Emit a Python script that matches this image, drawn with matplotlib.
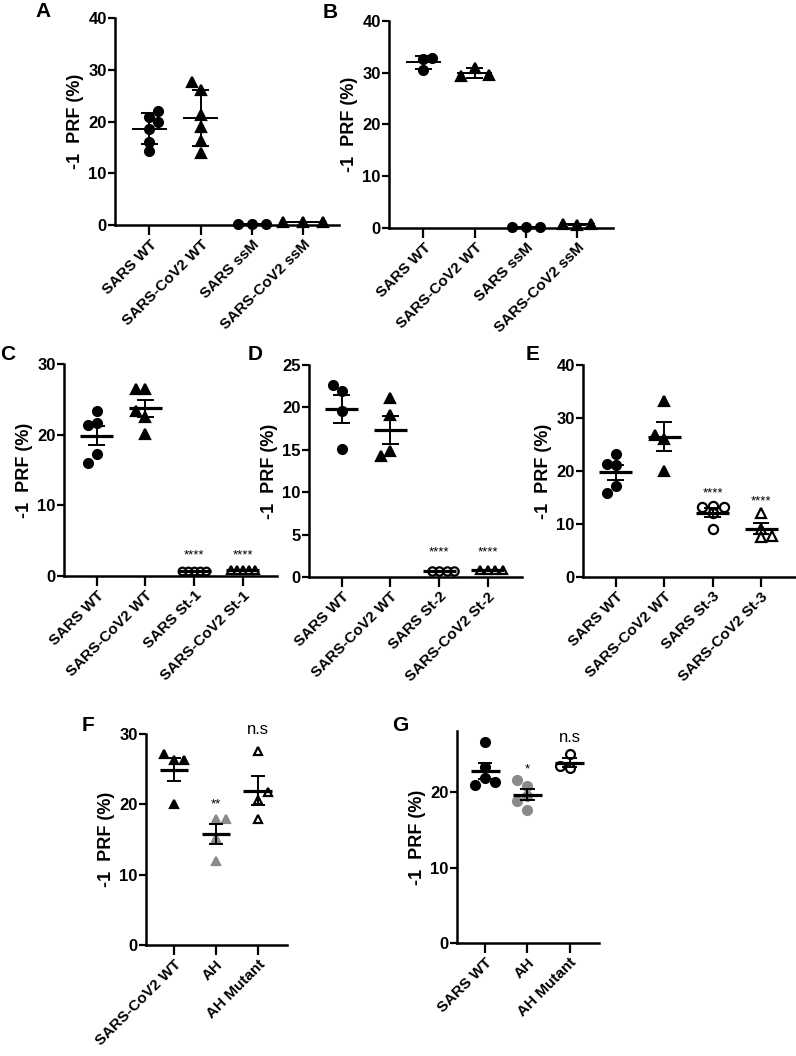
import numpy as np
import matplotlib
matplotlib.use('Agg')
import matplotlib.pyplot as plt

plt.rcParams['font.family'] = ['Liberation Sans', 'DejaVu Sans']

# ---------------- data ----------------
a_groups = ['SARS WT', 'SARS-CoV2 WT', 'SARS ssM', 'SARS-CoV2 ssM']
a_sars_wt = [20.8, 22.1, 19.9, 18.6, 16.1, 14.3]
a_cov2_wt = [26.1, 27.6, 21.2, 19.0, 16.3, 14.0]
a_sars_ssm = [0.25, 0.22, 0.22]
a_cov2_ssm = [0.6, 0.65, 0.6]

b_groups = ['SARS WT', 'SARS-CoV2 WT', 'SARS ssM', 'SARS-CoV2 ssM']
b_sars_wt = [32.6, 32.8, 30.6]
b_cov2_wt = [31.0, 29.4, 29.5]
b_sars_ssm = [0.2, 0.22, 0.2]
b_cov2_ssm = [0.65, 0.7, 0.7]

c_groups = ['SARS WT', 'SARS-CoV2 WT', 'SARS St-1', 'SARS-CoV2 St-1']
c_sars_wt = [21.6, 23.3, 21.3, 17.2, 16.0]
c_cov2_wt = [26.4, 26.4, 22.5, 23.4, 20.1]
c_sars_st1 = [0.7, 0.72, 0.68, 0.7, 0.71]
c_cov2_st1 = [0.8, 0.78, 0.82, 0.8, 0.79]
c_sig = ['', '', '****', '****']

d_groups = ['SARS WT', 'SARS-CoV2 WT', 'SARS St-2', 'SARS-CoV2 St-2']
d_sars_wt = [21.9, 22.6, 19.6, 15.1]
d_cov2_wt = [21.1, 19.1, 14.9, 14.3]
d_sars_st2 = [0.7, 0.7, 0.72, 0.68]
d_cov2_st2 = [0.8, 0.82, 0.78, 0.8]
d_sig = ['', '', '****', '****']

e_groups = ['SARS WT', 'SARS-CoV2 WT', 'SARS St-3', 'SARS-CoV2 St-3']
e_sars_wt = [23.3, 21.2, 21.4, 17.1, 15.9]
e_cov2_wt = [33.2, 26.0, 26.8, 20.0]
e_sars_st3 = [13.4, 13.2, 13.2, 12.0, 9.0]
e_cov2_st3 = [12.1, 9.0, 7.7, 7.6]
e_sig = ['', '', '****', '****']

f_groups = ['SARS-CoV2 WT', 'AH', 'AH Mutant']
f_cov2_wt = [26.3, 27.1, 26.3, 20.1]
f_ah = [17.9, 17.9, 15.2, 12.0]
f_ah_mut = [27.6, 20.6, 21.7, 17.9]
f_sig = ['', '**', 'n.s']

g_groups = ['SARS WT', 'AH', 'AH Mutant']
g_sars_wt = [26.7, 23.3, 21.9, 21.3, 21.0]
g_ah = [20.8, 21.55, 19.5, 18.8, 17.6]
g_ah_mut = [25.05, 23.2, 23.4]
g_sig = ['', '*', 'n.s']

# ---------------- style ----------------
W, H = 796, 1056
fig = plt.figure(figsize=(W / 100, H / 100), dpi=100)

BLACK = '#000000'
GRAY = '#8a8a8a'
FILLED_O = dict(marker='o', mfc=BLACK, mec=BLACK)
FILLED_T = dict(marker='^', mfc=BLACK, mec=BLACK)
OPEN_O = dict(marker='o', mfc='white', mec=BLACK)
OPEN_T = dict(marker='^', mfc='white', mec=BLACK)
GRAY_T = dict(marker='^', mfc=GRAY, mec=GRAY)
GRAY_O = dict(marker='o', mfc=GRAY, mec=GRAY)


def make_ax(left, right, top, bottom, ylim, yticks, ncat):
    ax = fig.add_axes([left / W, 1 - bottom / H, (right - left) / W, (bottom - top) / H])
    ax.set_ylim(*ylim)
    ax.set_yticks(yticks)
    ax.set_xlim(-0.67, ncat - 1 + 0.7)
    for s in ['top', 'right']:
        ax.spines[s].set_visible(False)
    for s in ['left', 'bottom']:
        ax.spines[s].set_linewidth(1.8)
    ax.tick_params(axis='y', direction='out', length=5, width=1.6, labelsize=12, pad=1)
    ax.tick_params(axis='x', direction='out', length=7, width=1.6, labelsize=11, pad=2)
    for lab in ax.get_yticklabels():
        lab.set_fontweight('bold')
    ax.set_ylabel('-1  PRF (%)', fontsize=13, fontweight='bold', labelpad=3)
    return ax


def swarm(ax, vals, d_px, tol=0.97, side=1):
    bb = ax.get_position()
    wpx = bb.width * W
    hpx = bb.height * H
    x0, x1 = ax.get_xlim()
    y0, y1 = ax.get_ylim()
    ppx = wpx / (x1 - x0)
    ppy = hpx / (y1 - y0)
    placed = []
    offs = []
    cands = [0]
    for j in range(1, 20):
        cands += [side * j, -side * j]
    for v in vals:
        y = v * ppy
        for c in cands:
            x = c * d_px
            if all((x - px) ** 2 + (y - py) ** 2 >= (tol * d_px) ** 2 for px, py in placed):
                break
        placed.append((x, y))
        offs.append(x / ppx)
    return np.array(offs)


def draw_group(ax, xpos, vals, mk, ms, err='sem', mean_lw=2.3, err_lw=1.4,
               mean_hw=0.34, cap_hw=0.17, d_px=9, mew=1.6, tol=0.97, side=1):
    vals = np.asarray(vals, dtype=float)
    offs = swarm(ax, vals, d_px, tol, side)
    ax.plot(xpos + offs, vals, linestyle='none', ms=ms, mew=mew, clip_on=False,
            zorder=3, **mk)
    m = vals.mean()
    s = vals.std(ddof=1)
    if err == 'sem':
        s = s / np.sqrt(len(vals))
    ax.hlines(m, xpos - mean_hw, xpos + mean_hw, color=BLACK, lw=mean_lw, zorder=4, clip_on=False)
    ax.vlines(xpos, m - s, m + s, color=BLACK, lw=err_lw, zorder=4, clip_on=False)
    ax.hlines([m - s, m + s], xpos - cap_hw, xpos + cap_hw, color=BLACK, lw=err_lw, zorder=4,
              clip_on=False)


def set_xlabels(ax, labels):
    ax.set_xticks(range(len(labels)))
    ax.set_xticklabels(labels, rotation=45, ha='right', va='top', rotation_mode='anchor',
                       fontweight='bold', fontsize=11)


def sig(ax, xpos, y, txt, size):
    if txt:
        ax.text(xpos, y, txt, ha='center', va='center', fontsize=size, fontweight='normal',
                clip_on=False)


def letter(x, y, s):
    fig.text(x / W, 1 - y / H, s, fontsize=15, fontweight='bold', ha='left', va='top')


# ---------------- Panel A ----------------
axA = make_ax(115, 339, 18, 225, (0, 40), [0, 10, 20, 30, 40], 4)
set_xlabels(axA, a_groups)
draw_group(axA, 0, a_sars_wt, FILLED_O, 6.4, err='sd', mean_lw=1.4)
draw_group(axA, 1, a_cov2_wt, FILLED_T, 6.8, err='sd', mean_lw=1.4, side=-1)
draw_group(axA, 2, a_sars_ssm, FILLED_O, 6.4, err='sd', mean_lw=1.4, d_px=14)
draw_group(axA, 3, a_cov2_ssm, FILLED_T, 6.8, err='sd', mean_lw=1.4, d_px=20)
letter(35, 2, 'A')

# ---------------- Panel B ----------------
axB = make_ax(389, 613, 21, 228, (0, 40), [0, 10, 20, 30, 40], 4)
set_xlabels(axB, b_groups)
draw_group(axB, 0, b_sars_wt, FILLED_O, 6.4, err='sd', mean_lw=1.4)
draw_group(axB, 1, b_cov2_wt, FILLED_T, 6.8, err='sd', mean_lw=1.4, d_px=14, side=-1)
draw_group(axB, 2, b_sars_ssm, FILLED_O, 6.4, err='sd', mean_lw=1.4, d_px=14)
draw_group(axB, 3, b_cov2_ssm, FILLED_T, 6.8, err='sd', mean_lw=1.4, d_px=14)
letter(323, 3, 'B')

# ---------------- Panel C ----------------
axC = make_ax(64, 277, 364, 576, (0, 30), [0, 10, 20, 30], 4)
set_xlabels(axC, c_groups)
draw_group(axC, 0, c_sars_wt, FILLED_O, 6.4, side=-1)
draw_group(axC, 1, c_cov2_wt, FILLED_T, 6.8, side=-1)
draw_group(axC, 2, c_sars_st1, OPEN_O, 5.5, d_px=6)
draw_group(axC, 3, c_cov2_st1, OPEN_T, 5.5, d_px=6)
for i, t in enumerate(c_sig):
    sig(axC, i, 2.9, t, 9.5)
letter(0, 345, 'C')

# ---------------- Panel D ----------------
axD = make_ax(309, 522, 365, 577, (0, 25), [0, 5, 10, 15, 20, 25], 4)
set_xlabels(axD, d_groups)
draw_group(axD, 0, d_sars_wt, FILLED_O, 6.4, side=-1)
draw_group(axD, 1, d_cov2_wt, FILLED_T, 6.8, side=-1)
draw_group(axD, 2, d_sars_st2, OPEN_O, 6.0, d_px=7.5)
draw_group(axD, 3, d_cov2_st2, OPEN_T, 6.0, d_px=7.5)
for i, t in enumerate(d_sig):
    sig(axD, i, 2.9, t, 9.5)
letter(248, 345, 'D')

# ---------------- Panel E ----------------
axE = make_ax(583, 795, 365, 577, (0, 40), [0, 10, 20, 30, 40], 4)
set_xlabels(axE, e_groups)
draw_group(axE, 0, e_sars_wt, FILLED_O, 6.4, side=-1)
draw_group(axE, 1, e_cov2_wt, FILLED_T, 6.8, side=-1)
draw_group(axE, 2, e_sars_st3, OPEN_O, 6.6, d_px=11, tol=0.64)
draw_group(axE, 3, e_cov2_st3, OPEN_T, 6.9, d_px=11, tol=0.64)
sig(axE, 2, 15.8, e_sig[2], 9.5)
sig(axE, 3, 14.2, e_sig[3], 9.5)
letter(526, 345, 'E')

# ---------------- Panel F ----------------
axF = make_ax(146, 287, 734, 945, (0, 30), [0, 10, 20, 30], 3)
set_xlabels(axF, f_groups)
draw_group(axF, 0, f_cov2_wt, FILLED_T, 6.4, d_px=10, side=-1)
draw_group(axF, 1, f_ah, GRAY_T, 6.4, d_px=10)
draw_group(axF, 2, f_ah_mut, OPEN_T, 6.2, d_px=10)
sig(axF, 1, 20.0, f_sig[1], 9.5)
sig(axF, 2, 30.6, f_sig[2], 12)
letter(82, 716, 'F')

# ---------------- Panel G ----------------
axG = make_ax(457, 599, 731, 943, (0, 28.1), [0, 10, 20], 3)
set_xlabels(axG, g_groups)
draw_group(axG, 0, g_sars_wt, FILLED_O, 6.4, d_px=10)
draw_group(axG, 1, g_ah, GRAY_O, 6.4, d_px=10, side=-1)
draw_group(axG, 2, g_ah_mut, OPEN_O, 6.4, d_px=10, side=-1)
sig(axG, 1, 23.0, g_sig[1], 9.5)
sig(axG, 2, 27.2, g_sig[2], 12)
letter(392, 716, 'G')

fig.savefig('out.png', dpi=100)
